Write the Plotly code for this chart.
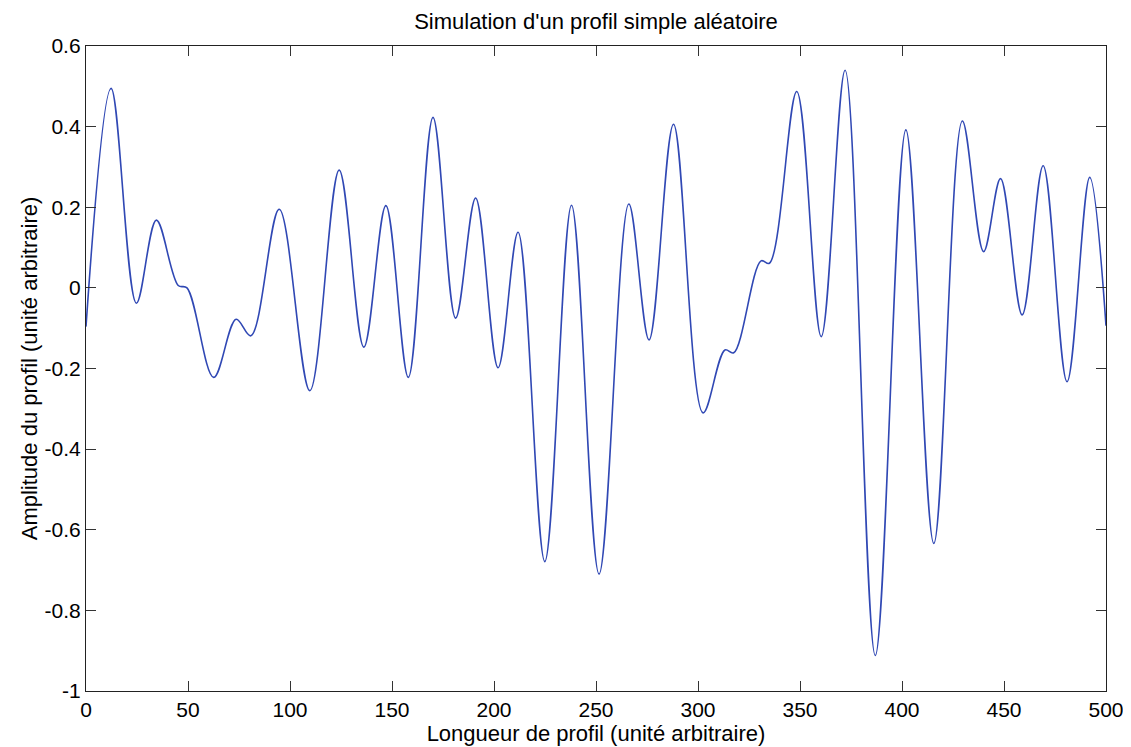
import plotly.graph_objects as go

# Points (extrema and shoulders of the profile)
x_pos = [0, 12.3, 24.7, 34.5, 45.2, 49.5, 62.6, 73.6, 80.8, 94.7, 109.7, 124.1,
         136.2, 147.0, 158.0, 170.1, 181.2, 191.0, 202.0, 211.8, 224.9, 238.0,
         251.5, 266.1, 276.0, 288.0, 302.5, 313.2, 317.5, 330.9, 335.0, 348.4,
         360.4, 372.1, 386.9, 401.9, 415.6, 429.6, 440.0, 448.3, 458.9, 469.2,
         480.9, 492.0, 500]
amplitude = [-0.096, 0.495, -0.038, 0.168, 0.006, 0.0, -0.222, -0.078, -0.119, 0.195,
             -0.255, 0.292, -0.147, 0.204, -0.222, 0.423, -0.075, 0.223, -0.198, 0.138,
             -0.679, 0.205, -0.710, 0.208, -0.129, 0.406, -0.310, -0.154, -0.161, 0.067,
             0.061, 0.487, -0.121, 0.540, -0.912, 0.392, -0.634, 0.414, 0.090, 0.271,
             -0.067, 0.303, -0.233, 0.274, -0.094]

x_ticks = [0, 50, 100, 150, 200, 250, 300, 350, 400, 450, 500]
y_ticks = [-1, -0.8, -0.6, -0.4, -0.2, 0, 0.2, 0.4, 0.6]
y_tick_text = ["-1", "-0.8", "-0.6", "-0.4", "-0.2", "0", "0.2", "0.4", "0.6"]

FONT = "Liberation Sans, Arial, sans-serif"

fig = go.Figure()
fig.add_trace(go.Scatter(
    x=x_pos, y=amplitude, mode="lines",
    line=dict(color="#3048b4", width=1.6, shape="spline", smoothing=1.0),
    showlegend=False, hoverinfo="x+y",
))

axis_common = dict(
    showgrid=False, zeroline=False, showline=True, linecolor="#222222", linewidth=1.3,
    mirror="allticks", ticks="inside", ticklen=10, tickwidth=1, tickcolor="#333333",
    tickfont=dict(family=FONT, size=21, color="black"), automargin=False,
)

# page body has an 8px margin: figure is sized/offset to compensate
fig.update_layout(
    width=1123, height=739,
    paper_bgcolor="white", plot_bgcolor="white",
    margin=dict(l=78, r=25, t=38, b=56),
    title=dict(text="Simulation d'un profil simple aléatoire", x=0.5, xanchor="center",
               xref="paper", yref="container", y=1 - 13 / 739, yanchor="middle",
               font=dict(family=FONT, size=22, color="black")),
    xaxis=dict(range=[0, 500], tickvals=x_ticks, ticktext=[str(v) for v in x_ticks],
               title=dict(text="Longueur de profil (unité arbitraire)", standoff=0,
                          font=dict(family=FONT, size=22, color="black")),
               **axis_common),
    yaxis=dict(range=[-1, 0.6], tickvals=y_ticks, ticktext=y_tick_text,
               title=dict(text="Amplitude du profil (unité arbitraire)", standoff=0,
                          font=dict(family=FONT, size=22, color="black")),
               **axis_common),
)

fig.write_html("out.html")
